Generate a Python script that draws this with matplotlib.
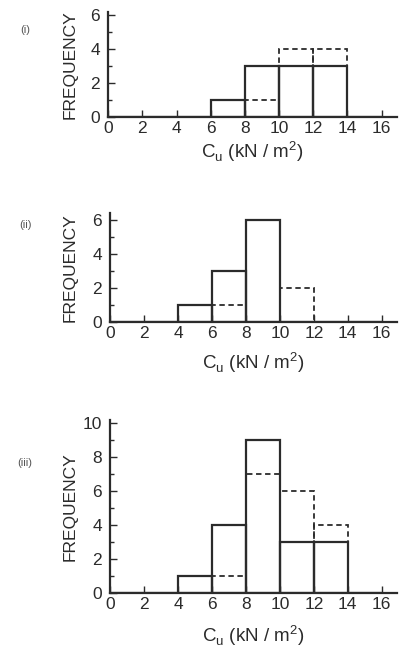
import numpy as np
import matplotlib
matplotlib.use("Agg")
import matplotlib.pyplot as plt
from matplotlib import rcParams

rcParams['font.family'] = ['Liberation Sans', 'DejaVu Sans']
rcParams['mathtext.fontset'] = 'custom'
rcParams['mathtext.rm'] = 'Liberation Sans'

# bin edges for Cu (kN/m2)
bin_edges = [0, 2, 4, 6, 8, 10, 12, 14, 16]

# frequencies per bin (solid = one data set, dashed = the other)
solid_i = [0, 0, 0, 1, 3, 3, 3, 0]
dashed_i = [0, 0, 0, 1, 1, 4, 4, 0]

solid_ii = [0, 0, 1, 3, 6, 0, 0, 0]
dashed_ii = [0, 0, 1, 1, 6, 2, 0, 0]

solid_iii = [0, 0, 1, 4, 9, 3, 3, 0]
dashed_iii = [0, 0, 1, 1, 7, 6, 4, 0]

panel_labels = ["(i)", "(ii)", "(iii)"]
x_ticks = [0, 2, 4, 6, 8, 10, 12, 14, 16]

INK = '#2b2b2b'
W, H = 399, 652

fig = plt.figure(figsize=(W / 100, H / 100), dpi=100)

# axes placement [left, bottom, width, height] and y limits for each panel
panels = [
    (solid_i, dashed_i, [0.271, 0.8206, 0.724, 0.161], 6.2, [0, 2, 4, 6]),
    (solid_ii, dashed_ii, [0.276, 0.506, 0.719, 0.167], 6.4, [0, 2, 4, 6]),
    (solid_iii, dashed_iii, [0.276, 0.0905, 0.719, 0.266], 10.2, [0, 2, 4, 6, 8, 10]),
]
label_y = [30, 225, 463]
xlabel_drop = [35, 41, 43]   # px below the axis

edges = np.array(bin_edges)
lefts = edges[:-1]
widths = np.diff(edges)

for k, (solid, dashed, rect, ytop, yticks) in enumerate(panels):
    ax = fig.add_axes(rect)
    ax.bar(lefts, dashed, width=widths, align='edge', fill=False,
           edgecolor=INK, linewidth=1.3, linestyle=(0, (3, 2)))
    ax.bar(lefts, solid, width=widths, align='edge', fill=False,
           edgecolor=INK, linewidth=1.6)

    ax.set_xlim(0, 16.9)
    ax.set_ylim(0, ytop)
    ax.spines['top'].set_visible(False)
    ax.spines['right'].set_visible(False)
    for s in ['left', 'bottom']:
        ax.spines[s].set_color(INK)
        ax.spines[s].set_linewidth(1.6)

    ax.set_xticks(x_ticks)
    ax.set_yticks(yticks)
    ax.set_yticks(np.arange(1, yticks[-1], 2), minor=True)
    ax.tick_params(axis='both', which='major', direction='in', length=5,
                   width=1.0, color=INK, labelcolor=INK, labelsize=12.5)
    ax.tick_params(axis='x', pad=3)
    ax.tick_params(axis='y', pad=6)
    ax.tick_params(axis='y', which='minor', direction='in', length=3,
                   width=1.0, color=INK)

    ax_w = rect[2] * W
    ax_h = rect[3] * H
    ax_l = rect[0] * W

    ax.set_ylabel("FREQUENCY", fontsize=12.5, color=INK)
    ax.yaxis.set_label_coords((78 - ax_l) / ax_w, 0.5)
    ax.set_xlabel(r"C$_\mathregular{u}$ (kN / m$^\mathregular{2}$)",
                  fontsize=13.5, color=INK, va='center')
    ax.xaxis.set_label_coords(0.5, -xlabel_drop[k] / ax_h)

    fig.text(25 / W, 1 - label_y[k] / H, panel_labels[k], fontsize=8,
             color='#555555', ha='center', va='center')

plt.savefig("out.png", dpi=100)
